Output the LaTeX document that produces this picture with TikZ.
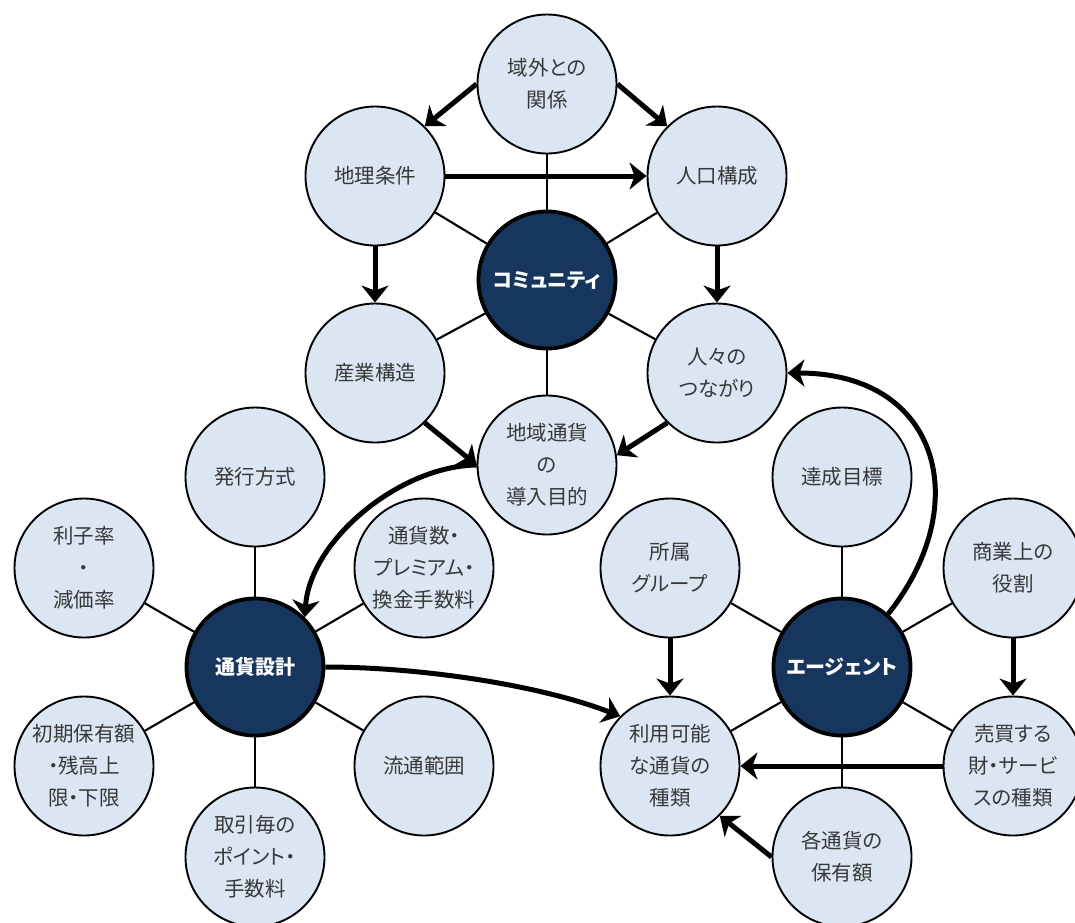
\documentclass[tikz,border=0pt]{standalone}
\usepackage{fontspec}
\newfontfamily\jpfont[RawFeature=+palt]{Noto Sans CJK JP}
\usetikzlibrary{arrows.meta}
\definecolor{navy}{HTML}{17365D}
\definecolor{lightblue}{HTML}{DCE6F2}
\definecolor{txtgray}{HTML}{383838}
\begin{document}
\begin{tikzpicture}[x=1pt,y=-1pt,
 sub/.style={circle, draw=black, line width=1.9pt, fill=lightblue, minimum size=139pt, inner sep=0pt, align=center, text=txtgray, font=\jpfont\fontsize{20.5}{32}\selectfont},
 core/.style={circle, draw=black, line width=3.8pt, fill=navy, minimum size=137pt, inner sep=0pt, align=center, text=white, font=\jpfont\bfseries\fontsize{20}{32}\selectfont},
 link/.style={line width=2.1pt},
 flow/.style={line width=5pt, -{Stealth[length=17pt,width=27pt,inset=5pt]}},
]
\useasboundingbox (0,0) rectangle (1075,922);
\fill[white] (0,0) rectangle (1075,922);

% community cluster
\node[core] (com) at (547,280) {コミュニティ};
\node[sub] (yo) at (547,84) {域外との\\関係};
\node[sub] (geo) at (375,176) {地理条件};
\node[sub] (jin) at (717,176) {人口構成};
\node[sub] (san) at (375,373) {産業構造};
\node[sub] (hito) at (717,373) {人々の\\つながり};
\node[sub] (dou) at (547,465) {地域通貨\\の\\導入目的};

% currency design cluster
\node[core] (tsu) at (255,667) {通貨設計};
\node[sub] (hak) at (255,477) {発行方式};
\node[sub] (rishi) at (84,568) {利子率\\・\\減価率};
\node[sub] (num) at (424,568) {通貨数・\\プレミアム・\\換金手数料};
\node[sub] (init) at (84,766) {初期保有額\\・残高上\\限・下限};
\node[sub] (ryu) at (424,766) {流通範囲};
\node[sub] (tori) at (255,857) {取引毎の\\ポイント・\\手数料};

% agent cluster
\node[core] (age) at (842,667) {エージェント};
\node[sub] (tas) at (842,477) {達成目標};
\node[sub] (sho) at (670,568) {所属\\グループ};
\node[sub] (shogyo) at (1013,568) {商業上の\\役割};
\node[sub] (riyo) at (670,766) {利用可能\\な通貨の\\種類};
\node[sub] (bai) at (1013,766) {売買する\\財・サービ\\スの種類};
\node[sub] (kaku) at (842,857) {各通貨の\\保有額};

% thin links
\foreach \n in {yo,geo,jin,san,hito,dou} \draw[link] (com) -- (\n);
\foreach \n in {hak,rishi,num,init,ryu,tori} \draw[link] (tsu) -- (\n);
\foreach \n in {tas,sho,shogyo,riyo,bai,kaku} \draw[link] (age) -- (\n);

% arrows
\draw[flow] (yo.west) -- (geo.45);
\draw[flow] (yo.east) -- (jin.135);
\draw[flow] (geo.east) -- (jin.west);
\draw[flow] (geo.south) -- (san.north);
\draw[flow] (jin.south) -- (hito.north);
\draw[flow] (san.-45) -- (dou.west);
\draw[flow] (hito.-135) -- (dou.8);
\draw[flow] (dou.west) .. controls (400,466) and (310,540) .. (tsu.45);
\draw[flow] (tsu.east) .. controls (420,667) and (540,685) .. (riyo.135);
\draw[flow] (age.49) .. controls (975,505) and (940,373) .. (hito.east);
\draw[flow] (sho.south) -- (riyo.north);
\draw[flow] (shogyo.south) -- (bai.north);
\draw[flow] (bai.west) -- (riyo.east);
\draw[flow] (kaku.west) -- (riyo.-45);
\end{tikzpicture}
\end{document}
